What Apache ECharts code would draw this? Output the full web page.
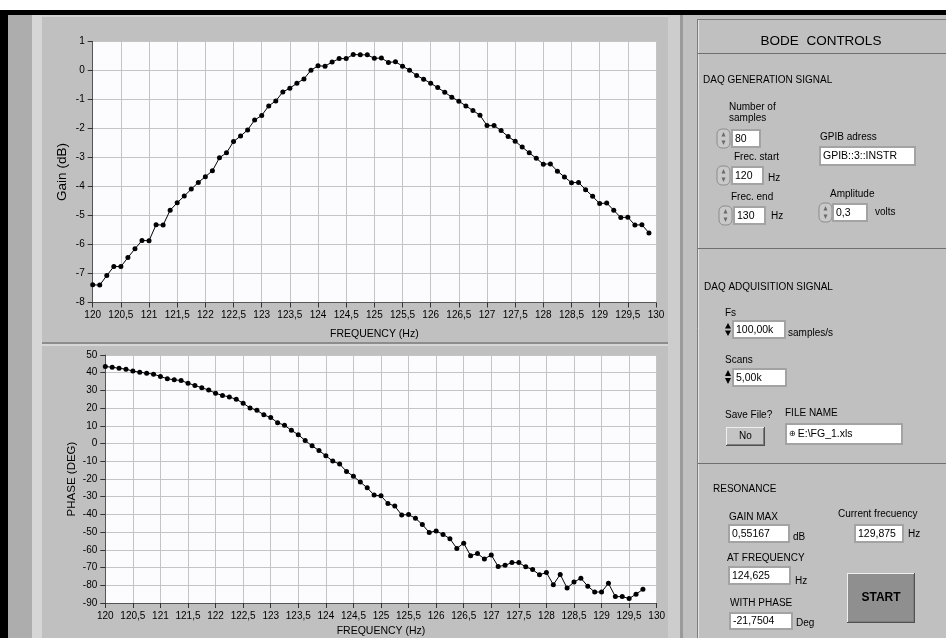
<!DOCTYPE html>
<html>
<head>
<meta charset="utf-8">
<script src="https://cdn.jsdelivr.net/npm/echarts@6/dist/echarts.min.js"></script>
<style>
html, body { margin: 0; padding: 0; background: #fff; }
#main { width: 946px; height: 638px; }
</style>
</head>
<body>
<div id="main"></div>
<script>
// frequency sweep, 80 samples from 120 to 130 Hz
var freq = [120, 120.125, 120.25, 120.375, 120.5, 120.625, 120.75, 120.875, 121, 121.125,
  121.25, 121.375, 121.5, 121.625, 121.75, 121.875, 122, 122.125, 122.25, 122.375,
  122.5, 122.625, 122.75, 122.875, 123, 123.125, 123.25, 123.375, 123.5, 123.625,
  123.75, 123.875, 124, 124.125, 124.25, 124.375, 124.5, 124.625, 124.75, 124.875,
  125, 125.125, 125.25, 125.375, 125.5, 125.625, 125.75, 125.875, 126, 126.125,
  126.25, 126.375, 126.5, 126.625, 126.75, 126.875, 127, 127.125, 127.25, 127.375,
  127.5, 127.625, 127.75, 127.875, 128, 128.125, 128.25, 128.375, 128.5, 128.625,
  128.75, 128.875, 129, 129.125, 129.25, 129.375, 129.5, 129.625, 129.75, 129.875];

// gain (dB)
var gain = [-7.39, -7.40, -7.07, -6.76, -6.76, -6.45, -6.15, -5.86, -5.87, -5.32,
  -5.33, -4.82, -4.56, -4.33, -4.09, -3.86, -3.66, -3.46, -3.01, -2.84,
  -2.45, -2.26, -2.05, -1.71, -1.55, -1.22, -1.05, -0.74, -0.61, -0.44,
  -0.29, 0.01, 0.16, 0.15, 0.29, 0.41, 0.41, 0.552, 0.54, 0.54,
  0.42, 0.43, 0.28, 0.30, 0.15, 0.01, -0.17, -0.30, -0.44, -0.59,
  -0.75, -0.92, -1.06, -1.22, -1.38, -1.54, -1.90, -1.90, -2.07, -2.28,
  -2.44, -2.64, -2.84, -3.03, -3.23, -3.22, -3.47, -3.67, -3.87, -3.86,
  -4.11, -4.34, -4.59, -4.57, -4.82, -5.07, -5.06, -5.33, -5.32, -5.60];

// phase (deg), last sample not plotted
var phase = [43.5, 43.1, 42.5, 42.0, 40.9, 40.3, 39.7, 39.2, 37.9, 36.6,
  36.0, 35.6, 34.1, 32.8, 31.5, 30.2, 28.4, 27.2, 26.3, 25.0,
  22.8, 20.1, 18.8, 16.2, 14.7, 11.8, 10.3, 7.5, 5.0, 1.7,
  -1.3, -3.9, -6.9, -9.9, -11.6, -15.7, -18.5, -21.75, -25.0, -29.1,
  -29.5, -33.8, -35.3, -40.3, -40.1, -42.2, -45.7, -50.2, -49.3, -51.3,
  -53.7, -59.2, -56.2, -63.3, -62.1, -65.1, -62.9, -69.4, -68.7, -67.2,
  -67.2, -69.6, -71.1, -74.1, -72.8, -79.7, -73.9, -81.6, -78.2, -76.0,
  -80.5, -83.8, -83.8, -78.9, -86.4, -86.4, -87.5, -85.0, -82.3];

var FONT = '"Liberation Sans", Arial, sans-serif';
var PANEL = '#c0c0c0';

var myChart = echarts.init(document.getElementById('main'));

function comma(v) { return String(v).replace('.', ','); }

function xAx(idx, gap) {
  return {
    gridIndex: idx, type: 'value', min: 120, max: 130, interval: 0.5,
    name: 'FREQUENCY (Hz)', nameLocation: 'middle', nameGap: gap, nameMoveOverlap: false,
    nameTextStyle: { color: '#000', fontSize: 10.5, fontFamily: FONT },
    axisLine: { onZero: false, lineStyle: { color: '#555', width: 1 } },
    axisTick: { length: 5, lineStyle: { color: '#333' } },
    axisLabel: { color: '#000', fontSize: 10, fontFamily: FONT, margin: 8, formatter: comma },
    splitLine: { lineStyle: { color: '#c4c4c4', width: 1 } }
  };
}
function yAx(idx, min, max, step, name, gap, nsize) {
  return {
    gridIndex: idx, type: 'value', min: min, max: max, interval: step,
    name: name, nameLocation: 'middle', nameGap: gap, nameMoveOverlap: false,
    nameTextStyle: { color: '#000', fontSize: nsize, fontFamily: FONT },
    axisLine: { show: true, onZero: false, lineStyle: { color: '#555', width: 1 } },
    axisTick: { length: 5, lineStyle: { color: '#333' } },
    axisLabel: { color: '#000', fontSize: 10, fontFamily: FONT, margin: 8 },
    splitLine: { lineStyle: { color: '#c4c4c4', width: 1 } }
  };
}

// ---- front panel decoration ----
var g = [];
function rect(x, y, w, h, fill, z, extra) {
  var o = { type: 'rect', z: z || -10, silent: true, shape: { x: x, y: y, width: w, height: h, r: 0 }, style: { fill: fill } };
  if (extra) { for (var k in extra) o.style[k] = extra[k]; }
  return o;
}
function line(x1, y1, x2, y2, col, w) {
  return { type: 'line', z: 5, silent: true, shape: { x1: x1, y1: y1, x2: x2, y2: y2 }, style: { stroke: col, lineWidth: w || 1 } };
}
function txt(t, x, y, size, align, weight) {
  return { type: 'text', z: 20, silent: true, style: { text: t, x: x, y: y, fill: '#000',
    fontSize: size || 10, fontFamily: FONT, fontWeight: weight || 'normal',
    align: align || 'left', verticalAlign: 'middle' } };
}
function box(x, y, w, h, t) {
  g.push(rect(x, y, w, h, '#a3a3a3', 10));
  g.push(rect(x + 2, y + 2, w - 4, h - 4, '#ffffff', 11));
  g.push(line(x + 2, y + 2.5, x + w - 2, y + 2.5, '#7a7a7a', 1));
  g.push(line(x + 2.5, y + 2, x + 2.5, y + h - 2, '#7a7a7a', 1));
  g.push(txt(t, x + 4, y + h / 2 + 0.5, 10.5));
}
function spin(x, y, w, h) {
  g.push({ type: 'rect', z: 10, silent: true, shape: { x: x, y: y, width: w, height: h, r: 5 },
    style: { fill: '#c9c9c9', stroke: '#8c8c8c', lineWidth: 1 } });
  var cx = x + w / 2;
  g.push({ type: 'polygon', z: 12, silent: true, shape: { points: [[cx - 2, y + h / 2 - 2], [cx + 2, y + h / 2 - 2], [cx, y + 3]] }, style: { fill: '#6a6a6a' } });
  g.push({ type: 'polygon', z: 12, silent: true, shape: { points: [[cx - 2, y + h / 2 + 2], [cx + 2, y + h / 2 + 2], [cx, y + h - 3]] }, style: { fill: '#6a6a6a' } });
  g.push(line(x + 2, y + h / 2, x + w - 2, y + h / 2, '#8c8c8c', 1));
}
function miniSpin(x, y, h) {
  g.push({ type: 'polygon', z: 12, silent: true, shape: { points: [[x, y + h / 2 - 1], [x + 6, y + h / 2 - 1], [x + 3, y + 2]] }, style: { fill: '#000' } });
  g.push({ type: 'polygon', z: 12, silent: true, shape: { points: [[x, y + h / 2 + 1], [x + 6, y + h / 2 + 1], [x + 3, y + h - 2]] }, style: { fill: '#000' } });
}
function button(x, y, w, h, t, fill, size, weight) {
  g.push(rect(x, y, w, h, '#505050', 10));
  g.push(rect(x, y, w - 1, h - 1, '#efefef', 11));
  g.push(rect(x + 1, y + 1, w - 2, h - 2, '#7e7e7e', 12));
  g.push(rect(x + 1, y + 1, w - 3, h - 3, fill, 13));
  g.push(txt(t, x + w / 2, y + h / 2, size, 'center', weight));
}

// backgrounds
g.push(rect(0, 10, 946, 5, '#000'));
g.push(rect(0, 10, 8, 628, '#000'));
g.push(rect(8, 15, 24, 623, '#adadad'));
g.push(rect(32, 15, 10, 623, '#d6d6d6'));
g.push(rect(42, 15, 626, 328, PANEL));
g.push(rect(42, 15, 626, 2, '#d2d2d2'));
g.push(rect(42, 342, 626, 2, '#8c8c8c'));
g.push(rect(42, 344, 626, 294, PANEL));
g.push(rect(42, 344, 626, 2, '#d6d6d6'));
g.push(rect(668, 15, 12, 623, '#cdcdcd'));
g.push(rect(680, 15, 3, 623, '#9a9a9a'));
g.push(rect(683, 15, 263, 623, PANEL));
// right panel frame
g.push(line(697.5, 19, 697.5, 638, '#7c7c7c', 1));
g.push(line(698.5, 20, 698.5, 638, '#e4e4e4', 1));
g.push(line(697, 19.5, 946, 19.5, '#7c7c7c', 1));
g.push(line(698, 53.5, 946, 53.5, '#6f6f6f', 1.2));
g.push(line(698, 248.5, 946, 248.5, '#6f6f6f', 1.2));
g.push(line(698, 463.5, 946, 463.5, '#6f6f6f', 1.2));

g.push(txt('BODE  CONTROLS', 821, 41, 13.5, 'center'));

// generation section
g.push(txt('DAQ GENERATION SIGNAL', 703, 80));
g.push(txt('Number of', 729, 107));
g.push(txt('samples', 729, 118));
spin(717, 129, 13, 19); box(731, 129, 30, 19, '80');
g.push(txt('Frec. start', 734, 157));
spin(717, 166, 13, 19); box(731, 166, 33, 19, '120');
g.push(txt('Hz', 768, 178));
g.push(txt('Frec. end', 731, 197));
spin(719, 206, 13, 19); box(733, 206, 33, 19, '130');
g.push(txt('Hz', 771, 216));
g.push(txt('GPIB adress', 820, 137));
box(819, 146, 97, 20, 'GPIB::3::INSTR');
g.push(txt('Amplitude', 830, 194));
spin(819, 203, 13, 19); box(832, 203, 36, 19, '0,3');
g.push(txt('volts', 875, 212));

// acquisition section
g.push(txt('DAQ ADQUISITION SIGNAL', 704, 287));
g.push(txt('Fs', 725, 313));
miniSpin(725, 321, 17); box(732, 320, 54, 19, '100,00k');
g.push(txt('samples/s', 788, 333));
g.push(txt('Scans', 725, 360));
miniSpin(725, 368, 18); box(732, 368, 55, 19, '5,00k');
g.push(txt('Save File?', 725, 415));
g.push(txt('FILE NAME', 785, 413));
button(726, 427, 39, 19, 'No', '#c4c4c4', 10);
box(785, 423, 118, 22, '   E:\\FG_1.xls');
g.push(txt('\u2295', 789, 434, 8));

// resonance section
g.push(txt('RESONANCE', 713, 489));
g.push(txt('GAIN MAX', 729, 517));
box(728, 524, 62, 19, '0,55167');
g.push(txt('dB', 793, 537));
g.push(txt('AT FREQUENCY', 727, 558));
box(728, 566, 63, 19, '124,625');
g.push(txt('Hz', 795, 581));
g.push(txt('WITH PHASE', 730, 603));
box(729, 612, 64, 18, '-21,7504');
g.push(txt('Deg', 796, 623));
g.push(txt('Current frecuency', 838, 514));
box(854, 524, 50, 19, '129,875');
g.push(txt('Hz', 908, 534));
button(847, 573, 68, 50, 'START', '#8f8f8f', 12, 'bold');

var option = {
  animation: false,
  backgroundColor: '#ffffff',
  graphic: g,
  grid: [
    { left: 92.7, top: 41.5, width: 563.3, height: 261, show: true, backgroundColor: '#fcfcff', borderWidth: 0 },
    { left: 105.3, top: 355, width: 551.4, height: 250, show: true, backgroundColor: '#fcfcff', borderWidth: 0 }
  ],
  xAxis: [xAx(0, 26), xAx(1, 23)],
  yAxis: [yAx(0, -8, 1, 1, 'Gain (dB)', 23, 13.5), yAx(1, -90, 50, 10, 'PHASE (DEG)', 27, 11.5)],
  series: [
    {
      name: 'Gain', type: 'line', xAxisIndex: 0, yAxisIndex: 0,
      data: freq.map(function (f, i) { return [f, gain[i]]; }),
      symbol: 'circle', symbolSize: 5, showSymbol: true,
      itemStyle: { color: '#000' }, lineStyle: { color: '#000', width: 1 }
    },
    {
      name: 'Phase', type: 'line', xAxisIndex: 1, yAxisIndex: 1,
      data: phase.map(function (p, i) { return [freq[i], p]; }),
      symbol: 'circle', symbolSize: 5, showSymbol: true,
      itemStyle: { color: '#000' }, lineStyle: { color: '#000', width: 1 }
    }
  ]
};
myChart.setOption(option);
</script>
</body>
</html>
